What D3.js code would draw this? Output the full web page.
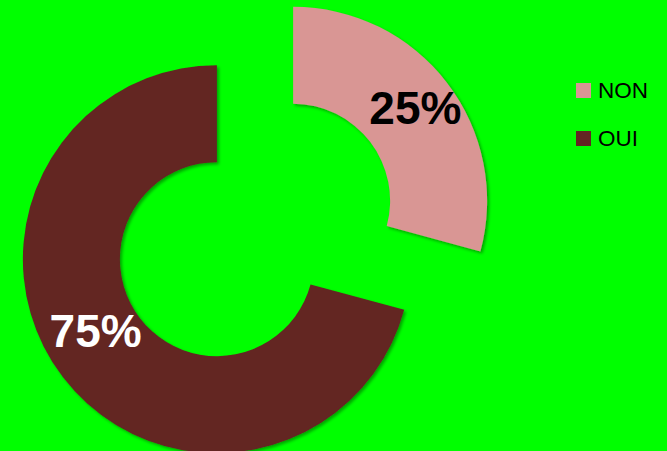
<!DOCTYPE HTML>
<html>
<head>
<meta charset="utf-8">
<title>NON / OUI</title>
<script src="https://d3js.org/d3.v7.min.js"></script>
<style>
    html, body { margin: 0; padding: 0; background: #00ff00; }
    svg { display: block; }
</style>
</head>
<body>
<svg id="chart"></svg>
<script>
    // data
    const categories = ["NON", "OUI"];
    const sliceValues = [29.2, 70.8];      // shares as drawn by the slices
    const labelTexts = ["25%", "75%"];     // labels printed on the slices
    const sliceColors = ["#d99694", "#632523"];
    const labelColors = ["#000000", "#ffffff"];

    const WIDTH = 667;
    const HEIGHT = 451;
    const CENTER_X = 255;
    const CENTER_Y = 230;
    const OUTER_R = 194;
    const INNER_R = 97;
    const EXPLODE = 48;

    let svg = d3.select("#chart")
        .attr("width", WIDTH)
        .attr("height", HEIGHT);

    svg.append("rect")
        .attr("width", WIDTH)
        .attr("height", HEIGHT)
        .attr("fill", "#00ff00");

    // soft shadow like the office chart
    let filter = svg.append("defs").append("filter")
        .attr("id", "shadow")
        .attr("x", "-10%").attr("y", "-10%")
        .attr("width", "130%").attr("height", "130%");
    filter.append("feDropShadow")
        .attr("dx", 2).attr("dy", 2)
        .attr("stdDeviation", 1.8)
        .attr("flood-color", "#000")
        .attr("flood-opacity", 0.35);

    let pie = d3.pie().sort(null).value(d => d)
        .startAngle(0).endAngle(2 * Math.PI);
    let arcs = pie(sliceValues);

    let arc = d3.arc().innerRadius(INNER_R).outerRadius(OUTER_R);
    let labelArc = d3.arc().innerRadius(154).outerRadius(154);

    function offset(d) {
        let mid = (d.startAngle + d.endAngle) / 2;
        return [Math.sin(mid) * EXPLODE, -Math.cos(mid) * EXPLODE];
    }

    let chart = svg.append("g")
        .attr("transform", `translate(${CENTER_X},${CENTER_Y})`);

    let slices = chart.selectAll("g.slice")
        .data(arcs)
        .enter()
        .append("g")
        .attr("class", "slice")
        .attr("transform", d => {
            let [dx, dy] = offset(d);
            return `translate(${dx},${dy})`;
        });

    slices.append("path")
        .attr("d", arc)
        .attr("fill", (d, i) => sliceColors[i])
        .attr("filter", "url(#shadow)");

    slices.append("text")
        .attr("transform", (d, i) => {
            let [x, y] = labelArc.centroid(d);
            if (i === 1) { x += 1; y -= 22; }
            return `translate(${x},${y})`;
        })
        .attr("text-anchor", "middle")
        .attr("dy", "0.36em")
        .attr("font-family", "Liberation Sans, Arial, sans-serif")
        .attr("font-weight", "bold")
        .attr("font-size", 46)
        .attr("fill", (d, i) => labelColors[i])
        .text((d, i) => labelTexts[i]);

    // legend
    let legend = svg.append("g")
        .attr("transform", "translate(576,83)");

    let items = legend.selectAll("g")
        .data(categories)
        .enter()
        .append("g")
        .attr("transform", (d, i) => `translate(0,${i * 48})`);

    items.append("rect")
        .attr("width", 15)
        .attr("height", 15)
        .attr("fill", (d, i) => sliceColors[i]);

    items.append("text")
        .attr("x", 22)
        .attr("y", 15)
        .attr("font-family", "Liberation Sans, Arial, sans-serif")
        .attr("font-size", 22.5)
        .attr("fill", "#000")
        .text(d => d);
</script>
</body>
</html>
